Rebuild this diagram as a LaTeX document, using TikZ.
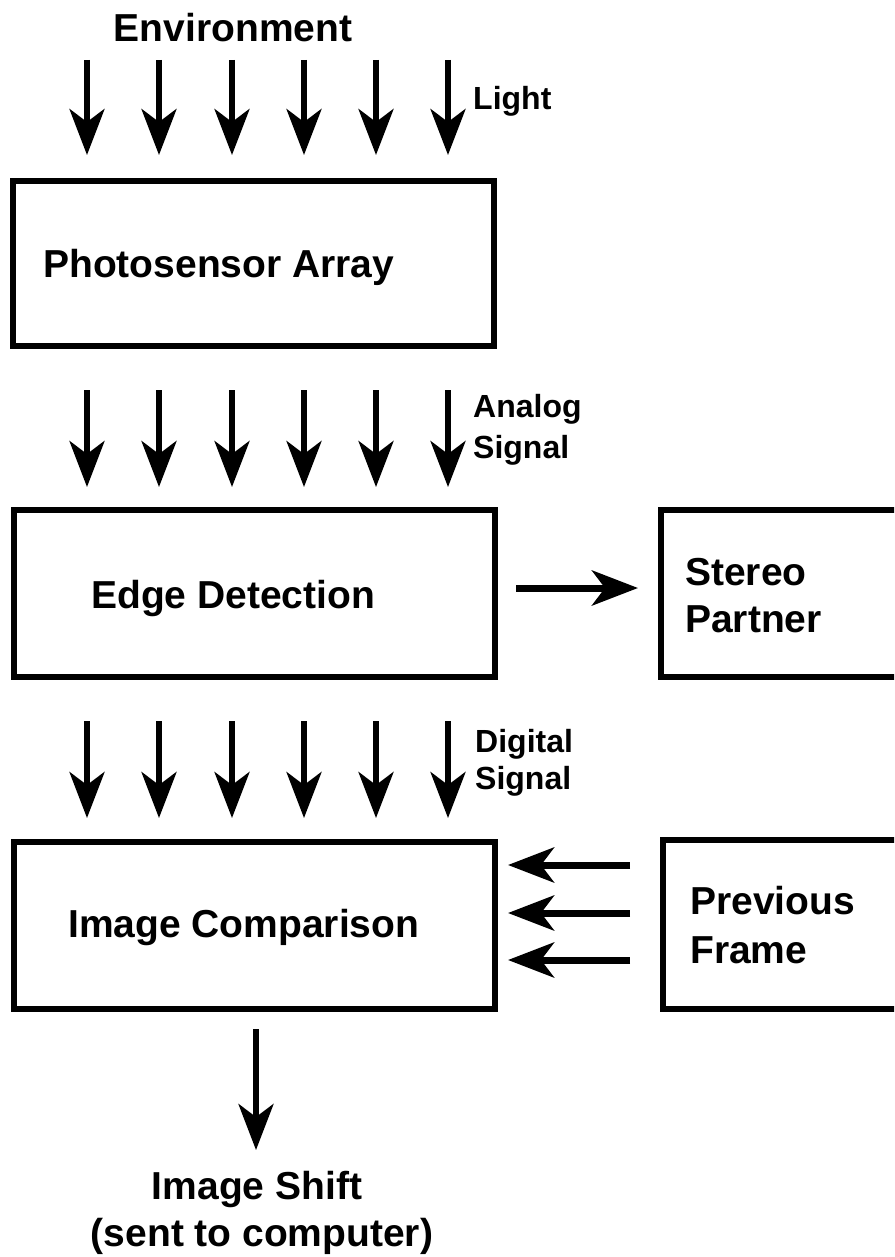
\documentclass[tikz,border=0pt]{standalone}
\usepackage{fontspec}
\setmainfont{Liberation Sans}
\usetikzlibrary{arrows.meta}
\begin{document}
\begin{tikzpicture}[x=1pt,y=-1pt,
  box/.style={draw, line width=6.5pt, rectangle, inner sep=0pt, outer sep=0pt, anchor=north west},
  big/.style={font=\fontsize{39}{47}\selectfont\bfseries, inner sep=0pt},
  small/.style={font=\fontsize{32}{40}\selectfont\bfseries, inner sep=0pt},
  varr/.style={line width=5.5pt, -{Stealth[length=46pt,width=35pt,inset=13pt]}},
  harr/.style={line width=7pt, -{Stealth[length=46pt,width=35pt,inset=13pt]}},
]
\useasboundingbox (0,0) rectangle (894,1257);
\fill[white] (0,0) rectangle (894,1257);
\clip (0,0) rectangle (894,1257);

% processing stages
\node[box, minimum width=481pt, minimum height=165pt] (photo)  at (13,181) {};
\node[box, minimum width=481pt, minimum height=167pt] (edge)   at (14,510) {};
\node[box, minimum width=300pt, minimum height=167pt] (stereo) at (661,510) {};
\node[box, minimum width=481pt, minimum height=167pt] (cmp)    at (14,842) {};
\node[box, minimum width=300pt, minimum height=169pt] (prev)   at (663,840) {};

% labels
\node[big, anchor=base] (envT) at (233,42) {Environment};
\node[small, anchor=base west] (lightT)   at (473,110) {Light};
\node[small, anchor=base west] (analogT)  at (473,417) {Analog};
\node[small, anchor=base west] (signalA)  at (473,458) {Signal};
\node[small, anchor=base west] (digitalT) at (475,752) {Digital};
\node[small, anchor=base west] (signalB)  at (475,789) {Signal};
\node[big, anchor=base west] (photoT)   at (43,277)  {Photosensor Array};
\node[big, anchor=base west] (edgeT)    at (91,608)  {Edge Detection};
\node[big, anchor=base west] (stereoT)  at (685,585) {Stereo};
\node[big, anchor=base west] (partnerT) at (685,632) {Partner};
\node[big, anchor=base west] (cmpT)     at (68,937)  {Image Comparison};
\node[big, anchor=base west] (prevT)    at (690,914) {Previous};
\node[big, anchor=base west] (frameT)   at (690,963) {Frame};
\node[big, anchor=base] (shiftT) at (257,1199) {Image Shift};
\node[big, anchor=base] (sentT)  at (262,1246) {(sent to computer)};

% parallel channels between the stages
\foreach \x [count=\i] in {87,159,232,304,376,448} {
  \coordinate (la\i) at (\x,60);  \coordinate (lb\i) at (\x,155);
  \coordinate (aa\i) at (\x,390); \coordinate (ab\i) at (\x,487);
  \coordinate (da\i) at (\x,721); \coordinate (db\i) at (\x,818);
  \draw[varr] (la\i) -- (lb\i);
  \draw[varr] (aa\i) -- (ab\i);
  \draw[varr] (da\i) -- (db\i);
}

% edge map to the stereo partner
\coordinate (sy) at (0,588);
\draw[harr, shorten <=21pt, shorten >=23pt] (edge.east |- sy) -- (stereo.west |- sy);

% previous frame into the comparison
\foreach \y [count=\i] in {865,913,960} {
  \coordinate (py\i) at (0,\y);
  \draw[harr, shorten <=33pt, shorten >=13pt] (prev.west |- py\i) -- (cmp.east |- py\i);
}

% result
\coordinate (shiftEnd) at (256,1150);
\draw[varr, shorten <=20pt] (cmp.south -| shiftEnd) -- (shiftEnd);
\end{tikzpicture}
\end{document}
